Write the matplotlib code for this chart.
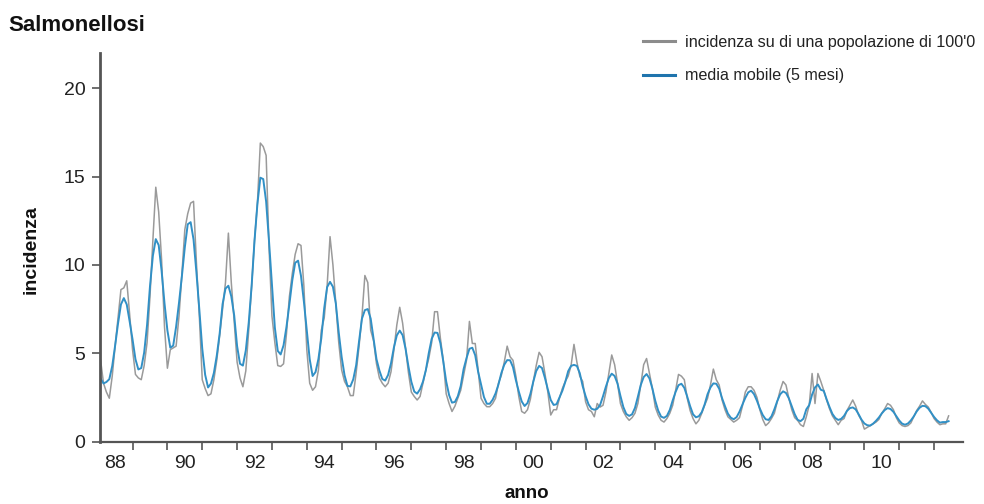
import numpy as np
import pandas as pd
import matplotlib
matplotlib.use("Agg")
import matplotlib.pyplot as plt
from matplotlib.lines import Line2D

# ========== dati ==========
# incidenza mensile su 100'000 abitanti, gen 1988 - mag 2012
incidenza = [
    4.6, 3.3, 2.8, 2.45, 3.7, 5.4, 7.0, 8.6, 8.7, 9.1, 7.2, 5.2,         # 1988
    3.8, 3.6, 3.5, 4.3, 5.6, 8.2, 11.4, 14.4, 13.0, 10.3, 6.5, 4.15,     # 1989
    5.2, 5.3, 5.4, 7.1, 9.5, 12.0, 12.9, 13.5, 13.6, 10.1, 7.1, 3.5,     # 1990
    3.0, 2.6, 2.7, 3.5, 4.6, 6.0, 7.5, 9.0, 11.8, 9.0, 6.8, 4.5,         # 1991
    3.6, 3.1, 4.0, 6.3, 8.8, 11.4, 13.5, 16.9, 16.7, 16.2, 11.0, 7.1,    # 1992
    5.6, 4.3, 4.25, 4.4, 6.1, 8.2, 9.5, 10.6, 11.2, 11.1, 8.8, 5.2,      # 1993
    3.3, 2.9, 3.1, 4.05, 6.3, 7.0, 8.8, 11.6, 10.0, 7.8, 5.6, 4.05,      # 1994
    3.4, 3.1, 2.6, 2.6, 3.9, 5.4, 7.1, 9.4, 9.0, 6.3, 5.7, 4.4,          # 1995
    3.6, 3.3, 3.1, 3.3, 3.95, 5.2, 6.6, 7.6, 6.7, 5.3, 3.9, 2.8,         # 1996
    2.55, 2.35, 2.55, 3.3, 4.05, 4.7, 5.6, 7.35, 7.35, 5.85, 4.6, 2.7,   # 1997
    2.15, 1.7, 2.0, 2.45, 2.9, 3.75, 4.6, 6.8, 5.55, 5.55, 4.05, 2.45,   # 1998
    2.15, 1.97, 1.97, 2.15, 2.45, 3.3, 3.75, 4.5, 5.4, 4.8, 4.6, 3.7,    # 1999
    2.55, 1.7, 1.6, 1.8, 2.4, 3.4, 4.3, 5.05, 4.8, 3.85, 2.8, 1.5,       # 2000
    1.8, 1.8, 2.45, 3.0, 3.4, 3.7, 4.3, 5.5, 4.5, 3.7, 3.4, 2.25,        # 2001
    1.8, 1.7, 1.4, 2.15, 1.95, 2.05, 2.8, 3.85, 4.9, 4.35, 3.3, 2.15,    # 2002
    1.7, 1.4, 1.2, 1.35, 1.6, 2.15, 3.2, 4.35, 4.7, 3.85, 3.0, 1.95,     # 2003
    1.5, 1.2, 1.1, 1.3, 1.6, 2.05, 2.9, 3.8, 3.7, 3.5, 2.45, 1.75,       # 2004
    1.3, 1.0, 1.2, 1.6, 2.05, 2.45, 3.2, 4.1, 3.5, 3.2, 2.35, 1.8,       # 2005
    1.4, 1.25, 1.1, 1.2, 1.35, 2.0, 2.8, 3.1, 3.1, 2.9, 2.5, 1.8,        # 2006
    1.25, 0.9, 1.05, 1.3, 1.6, 2.25, 2.9, 3.4, 3.2, 2.45, 1.8, 1.35,     # 2007
    1.2, 0.95, 0.85, 1.4, 2.05, 3.85, 2.15, 3.85, 3.4, 2.9, 2.35, 1.85,  # 2008
    1.45, 1.2, 0.95, 1.2, 1.3, 1.75, 2.05, 2.35, 2.0, 1.5, 1.2, 0.7,     # 2009
    0.8, 0.9, 1.0, 1.1, 1.25, 1.6, 1.85, 2.15, 2.05, 1.8, 1.35, 1.05,    # 2010
    0.9, 0.85, 0.9, 1.05, 1.4, 1.75, 2.0, 2.3, 2.1, 1.95, 1.65, 1.3,     # 2011
    1.1, 0.95, 1.0, 1.0, 1.45,                                           # 2012
]
anno_inizio = 1988
anni_tick = list(range(1989, 2013))
anni_etichette = list(range(1988, 2011, 2))
etichette = ['88', '90', '92', '94', '96', '98', '00', '02', '04', '06', '08', '10']
y_tick = [0, 5, 10, 15, 20]

# media mobile centrata su 5 mesi
media_mobile = pd.Series(incidenza).rolling(5, center=True, min_periods=1).mean()
mesi = anno_inizio + (np.arange(len(incidenza)) + 1) / 12

# ========== grafico ==========
W, H = 984, 504
fig = plt.figure(figsize=(W / 100, H / 100), dpi=100)
ax = fig.add_axes([100 / W, 1 - 441.5 / H, 863 / W, 388.5 / H])

ax.plot(mesi, incidenza, color='#9a9a9a', lw=1.1)
ax.plot(mesi, media_mobile, color='#3190c6', lw=1.4)

ax.set_xlim(1988.066, 2012.83)
ax.set_ylim(0, 22)

for s in ['top', 'right']:
    ax.spines[s].set_visible(False)
ax.spines['left'].set_color('#555555')
ax.spines['left'].set_linewidth(2.0)
ax.spines['bottom'].set_color('#555555')
ax.spines['bottom'].set_linewidth(1.6)

font = ['Liberation Sans', 'DejaVu Sans']
ax.set_yticks(y_tick)
ax.set_yticklabels([str(v) for v in y_tick], family=font, fontsize=14, color='#222222')
ax.tick_params(axis='y', length=5.5, width=1.2, color='#555555', pad=5)

ax.set_xticks(anni_tick)
ax.set_xticklabels([''] * len(anni_tick))
ax.set_xticks([a + 0.5 for a in anni_etichette], minor=True)
ax.set_xticklabels(etichette, minor=True, family=font, fontsize=14, color='#222222')
ax.tick_params(axis='x', which='major', length=5.5, width=1.2, color='#555555')
ax.tick_params(axis='x', which='minor', length=0, pad=9.5)

# titoli
fig.text(8 / W, 1 - 31 / H, 'Salmonellosi', family=font, fontsize=16,
         fontweight='bold', va='baseline', ha='left', color='#111111')
fig.text(31 / W, 1 - 250 / H, 'incidenza', family=font, fontsize=14,
         fontweight='bold', rotation=90, ha='center', va='center', color='#111111')
fig.text(527 / W, 1 - 493 / H, 'anno', family=font, fontsize=13.5,
         fontweight='bold', ha='center', va='center', color='#111111')

# legenda
fig.add_artist(Line2D([643 / W, 675 / W], [1 - 41 / H] * 2, color='#8c8c8c', lw=2.2))
fig.text(685 / W, 1 - 42 / H, "incidenza su di una popolazione di 100'0", family=font,
         fontsize=11.6, va='center', ha='left', color='#222222')
fig.add_artist(Line2D([643 / W, 675 / W], [1 - 75 / H] * 2, color='#1f74ad', lw=2.2))
fig.text(685 / W, 1 - 75.5 / H, 'media mobile (5 mesi)', family=font,
         fontsize=11.6, va='center', ha='left', color='#222222')

fig.savefig('out.png', dpi=100)
